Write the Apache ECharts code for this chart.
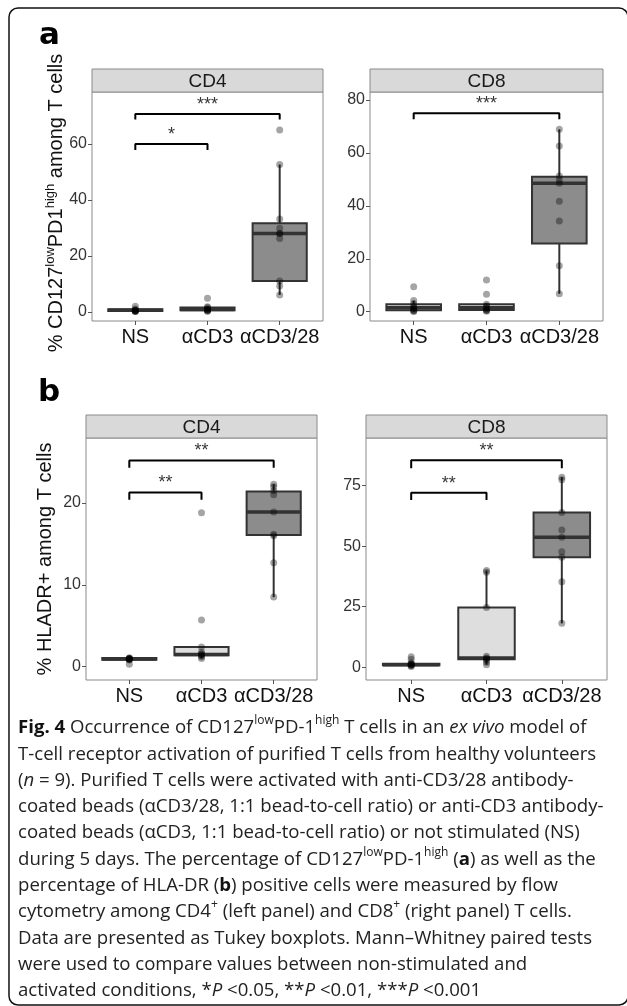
<!DOCTYPE html>
<html>
<head>
<meta charset="utf-8">
<title>Fig. 4</title>
<script src="https://cdn.jsdelivr.net/npm/echarts@6/dist/echarts.min.js"></script>
<style>
html, body { margin: 0; padding: 0; background: #fff; }
#main { width: 627px; height: 1006px; }
</style>
</head>
<body>
<div id="main"></div>
<script>
var groups = ['NS', 'αCD3', 'αCD3/28'];

// points per group (NS, aCD3, aCD3/28)
var aCD4Points = [
    [0.1, 0.2, 0.3, 0.3, 0.4, 0.5, 0.6, 1.0, 2.0],
    [0.2, 0.3, 0.5, 0.6, 0.8, 1.0, 1.5, 1.8, 4.8],
    [6.0, 9.2, 11.0, 26.2, 28.0, 28.0, 29.8, 33.1, 52.6, 64.9]
];
var aCD8Points = [
    [0.1, 0.3, 0.6, 1.0, 1.5, 1.9, 3.0, 4.2, 9.4],
    [0.2, 0.5, 0.7, 1.0, 1.5, 2.2, 2.8, 6.6, 12.0],
    [6.8, 17.4, 34.3, 41.7, 48.5, 49.8, 51.3, 62.6, 68.9]
];
var bCD4Points = [
    [0.3, 0.8, 0.9, 0.9, 0.9, 1.0, 1.0, 1.0, 1.1],
    [1.0, 1.2, 1.4, 1.5, 1.6, 1.8, 2.4, 5.7, 18.8],
    [8.5, 12.7, 16.0, 16.2, 18.9, 21.0, 21.5, 22.0, 22.3]
];
var bCD8Points = [
    [0.3, 0.6, 0.9, 1.0, 1.2, 1.4, 1.8, 3.3, 4.3],
    [1.0, 2.0, 3.0, 3.5, 3.8, 4.5, 24.7, 39.2, 39.9],
    [18.1, 35.3, 45.4, 47.7, 53.7, 56.7, 63.9, 77.4, 78.5]
];

// boxes: [lower whisker, Q1, median, Q3, upper whisker]
var aCD4Box = [[0.1, 0.3, 0.5, 0.9, 1.2], [0.2, 0.5, 0.8, 1.5, 1.8], [6.0, 11.0, 28.0, 31.6, 52.6]];
var aCD8Box = [[0.1, 0.6, 1.5, 2.8, 4.2], [0.2, 0.7, 1.5, 2.8, 3.2], [6.8, 25.8, 48.5, 51.0, 68.9]];
var bCD4Box = [[0.8, 0.85, 0.95, 1.05, 1.2], [1.0, 1.4, 1.5, 2.4, 2.4], [8.5, 16.1, 18.9, 21.4, 22.3]];
var bCD8Box = [[0.3, 0.8, 1.0, 1.4, 1.8], [1.0, 3.3, 3.8, 24.7, 39.9], [18.1, 45.4, 53.7, 63.9, 78.5]];

// significance brackets: [from, to, bar height, tip end, stars]
var aCD4Sig = [[0, 2, 70.6, 68.7, '***'], [0, 1, 59.9, 57.8, '*']];
var aCD8Sig = [[0, 2, 75.0, 72.7, '***']];
var bCD4Sig = [[0, 2, 25.2, 24.3, '**'], [0, 1, 21.3, 20.4, '**']];
var bCD8Sig = [[0, 2, 85.5, 82.2, '**'], [0, 1, 72.1, 69.1, '**']];

var aTicks4 = [0, 20, 40, 60];
var aTicks8 = [0, 20, 40, 60, 80];
var bTicks4 = [0, 10, 20];
var bTicks8 = [0, 25, 50, 75];

var boxFill = ['#dedede', '#dedede', '#8c8c8c'];
var FONT = 'Liberation Sans, Arial, sans-serif';
var STRIP_H = 23;

var panels = [
    {title: 'CD4', left: 92,  top: 92,  width: 231, height: 229, ymin: -3.3, ymax: 78.5, ticks: aTicks4, pts: aCD4Points, box: aCD4Box, sig: aCD4Sig},
    {title: 'CD8', left: 370, top: 92,  width: 233, height: 229, ymin: -3.5, ymax: 83.0, ticks: aTicks8, pts: aCD8Points, box: aCD8Box, sig: aCD8Sig},
    {title: 'CD4', left: 86,  top: 438, width: 231, height: 242, ymin: -1.63, ymax: 27.95, ticks: bTicks4, pts: bCD4Points, box: bCD4Box, sig: bCD4Sig},
    {title: 'CD8', left: 366, top: 438, width: 241, height: 242, ymin: -5.3, ymax: 94.7, ticks: bTicks8, pts: bCD8Points, box: bCD8Box, sig: bCD8Sig}
];

function renderBox(params, api) {
    var k = api.value(0);
    var w = api.size([0.75, 0])[0];
    var pMin = api.coord([k, api.value(1)]);
    var pQ1 = api.coord([k, api.value(2)]);
    var pMed = api.coord([k, api.value(3)]);
    var pQ3 = api.coord([k, api.value(4)]);
    var pMax = api.coord([k, api.value(5)]);
    var x = pMin[0];
    var stroke = '#333';
    return {
        type: 'group',
        children: [
            {type: 'line', shape: {x1: x, y1: pQ3[1], x2: x, y2: pMax[1]}, style: {stroke: stroke, lineWidth: 2}},
            {type: 'line', shape: {x1: x, y1: pQ1[1], x2: x, y2: pMin[1]}, style: {stroke: stroke, lineWidth: 2}},
            {type: 'rect', shape: {x: x - w / 2, y: pQ3[1], width: w, height: pQ1[1] - pQ3[1]},
                style: {fill: boxFill[k], stroke: stroke, lineWidth: 2}},
            {type: 'line', shape: {x1: x - w / 2, y1: pMed[1], x2: x + w / 2, y2: pMed[1]}, style: {stroke: stroke, lineWidth: 3.5}}
        ]
    };
}

var grids = [], xAxes = [], yAxes = [], series = [], graphics = [];

panels.forEach(function (p, i) {
    grids.push({left: p.left, top: p.top, width: p.width, height: p.height, show: true,
        borderColor: '#8a8a8a', borderWidth: 1, backgroundColor: '#fff', outerBoundsMode: 'none'});
    xAxes.push({
        gridIndex: i, type: 'value', min: -0.6, max: 2.6, position: 'bottom',
        axisLine: {show: false, onZero: false}, splitLine: {show: false},
        axisTick: {show: true, customValues: [0, 1, 2], length: 4, lineStyle: {color: '#555'}},
        axisLabel: {customValues: [0, 1, 2], formatter: function (v) { return groups[Math.round(v)]; },
            fontSize: 20, color: '#111', fontFamily: FONT, margin: 6}
    });
    yAxes.push({
        gridIndex: i, type: 'value', min: p.ymin, max: p.ymax, position: 'left',
        axisLine: {show: false, onZero: false}, splitLine: {show: false},
        axisTick: {show: true, customValues: p.ticks, length: 4, lineStyle: {color: '#555'}},
        axisLabel: {customValues: p.ticks, fontSize: 16, color: '#333', fontFamily: FONT, margin: 5}
    });

    series.push({
        type: 'custom', xAxisIndex: i, yAxisIndex: i, renderItem: renderBox, z: 2,
        encode: {x: 0, y: [1, 2, 3, 4, 5]},
        data: p.box.map(function (b, k) { return [k].concat(b); })
    });

    var pts = [];
    p.pts.forEach(function (arr, k) {
        arr.forEach(function (v) { pts.push([k, v]); });
    });
    series.push({
        type: 'scatter', xAxisIndex: i, yAxisIndex: i, symbolSize: 7, z: 3,
        itemStyle: {color: 'rgba(0,0,0,0.44)'}, data: pts
    });

    p.sig.forEach(function (s) {
        series.push({
            type: 'line', xAxisIndex: i, yAxisIndex: i, symbol: 'none', z: 4,
            lineStyle: {color: '#000', width: 2},
            data: [[s[0], s[3]], [s[0], s[2]], [s[1], s[2]], [s[1], s[3]]]
        });
        series.push({
            type: 'scatter', xAxisIndex: i, yAxisIndex: i, symbolSize: 0, z: 4,
            label: {show: true, position: 'top', distance: 0, formatter: s[4],
                fontSize: 18, color: '#000', fontFamily: FONT},
            data: [[(s[0] + s[1]) / 2, s[2]]]
        });
    });

    // facet strip
    graphics.push({
        type: 'rect', silent: true,
        shape: {x: p.left, y: p.top - STRIP_H, width: p.width, height: STRIP_H},
        style: {fill: '#d9d9d9', stroke: '#8a8a8a', lineWidth: 1}
    });
    graphics.push({
        type: 'text', silent: true, x: p.left + p.width / 2, y: p.top - STRIP_H / 2 + 1,
        style: {text: p.title, fontSize: 19, fontFamily: FONT, fill: '#1a1a1a', align: 'center', verticalAlign: 'middle'}
    });
});

function yTitle(text, x, y) {
    return {
        type: 'text', silent: true, x: x, y: y, rotation: Math.PI / 2,
        style: {
            text: text, align: 'center', verticalAlign: 'middle', fill: '#111',
            fontSize: 20, fontFamily: FONT,
            rich: {
                n: {fontSize: 20, fontFamily: FONT, fill: '#111', lineHeight: 24},
                s: {fontSize: 13, fontFamily: FONT, fill: '#111', lineHeight: 12, verticalAlign: 'top'}
            }
        }
    };
}

graphics.push(yTitle('{n|% CD127}{s|low}{n|PD1}{s|high}{n| among T cells}', 56, 203));
graphics.push(yTitle('{n|% HLADR+ among T cells}', 45, 559));

graphics.push({type: 'text', silent: true, x: 39, y: 36,
    style: {text: 'a', fontSize: 31, fontWeight: 'bold', fontFamily: 'DejaVu Sans, sans-serif', fill: '#000', verticalAlign: 'middle'}});
graphics.push({type: 'text', silent: true, x: 38, y: 393,
    style: {text: 'b', fontSize: 31, fontWeight: 'bold', fontFamily: 'DejaVu Sans, sans-serif', fill: '#000', verticalAlign: 'middle'}});

// caption
var CAP = 'Open Sans, sans-serif';
var capLines = [
    '{b|Fig. 4}{n| Occurrence of CD127}{s|low}{n|PD-1}{s|high}{n| T cells in an }{i|ex vivo}{n| model of}',
    '{n|T-cell receptor activation of purified T cells from healthy volunteers}',
    '{n|(}{i|n}{n| = 9). Purified T cells were activated with anti-CD3/28 antibody-}',
    '{n|coated beads (αCD3/28, 1:1 bead-to-cell ratio) or anti-CD3 antibody-}',
    '{n|coated beads (αCD3, 1:1 bead-to-cell ratio) or not stimulated (NS)}',
    '{n|during 5 days. The percentage of CD127}{s|low}{n|PD-1}{s|high}{n| (}{b|a}{n|) as well as the}',
    '{n|percentage of HLA-DR (}{b|b}{n|) positive cells were measured by flow}',
    '{n|cytometry among CD4}{s|+}{n| (left panel) and CD8}{s|+}{n| (right panel) T cells.}',
    '{n|Data are presented as Tukey boxplots. Mann–Whitney paired tests}',
    '{n|were used to compare values between non-stimulated and}',
    '{n|activated conditions, *}{i|P}{n| <0.05, **}{i|P}{n| <0.01, ***}{i|P}{n| <0.001}'
];
var capSize = 18.6, capLH = 26.3;
graphics.push({
    type: 'text', silent: true, x: 18, y: 728 - capLH / 2,
    style: {
        text: capLines.join('\n'), fontSize: capSize, fontFamily: CAP, fill: '#222', verticalAlign: 'top',
        rich: {
            n: {fontSize: capSize, fontFamily: CAP, fill: '#222', lineHeight: capLH},
            b: {fontSize: capSize, fontFamily: CAP, fill: '#111', fontWeight: 'bold', lineHeight: capLH},
            i: {fontSize: capSize, fontFamily: CAP, fill: '#222', fontStyle: 'italic', lineHeight: capLH},
            s: {fontSize: 12, fontFamily: CAP, fill: '#222', lineHeight: 17, verticalAlign: 'top'}
        }
    }
});

// outer frame
graphics.push({
    type: 'rect', silent: true, z: 100,
    shape: {x: 9, y: 8, width: 619, height: 997, r: 9},
    style: {fill: 'none', stroke: '#111', lineWidth: 1.5}
});

var chart = echarts.init(document.getElementById('main'), null, {renderer: 'canvas'});
chart.setOption({
    animation: false,
    backgroundColor: '#fff',
    grid: grids,
    xAxis: xAxes,
    yAxis: yAxes,
    series: series,
    graphic: graphics
});
</script>
</body>
</html>
